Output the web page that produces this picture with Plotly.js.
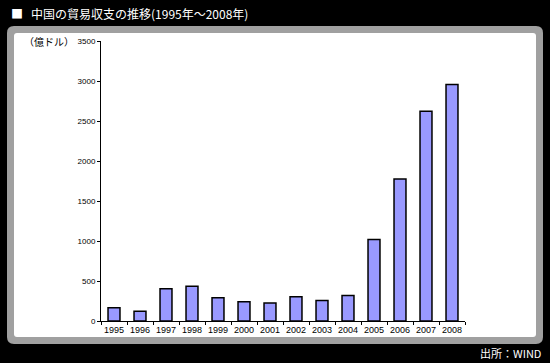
<!DOCTYPE html>
<html><head><meta charset="utf-8">
<script src="https://cdn.plot.ly/plotly-3.0.1.min.js"></script>
<style>html,body{margin:0;padding:0;background:#000;}#chart{width:550px;height:363px;}</style>
</head><body><div id="chart"></div>
<script>
const years = ['1995','1996','1997','1998','1999','2000','2001','2002','2003','2004','2005','2006','2007','2008'];
const balance = [167,122,404,435,292,241,225,304,255,320,1020,1775,2622,2955];
const yTicks = [0,500,1000,1500,2000,2500,3000,3500];
const markText = '■';
const titleText = '中国の貿易収支の推移(1995年～2008年)';
const unitText = '（億ドル）';
const sourceText = '出所：WIND';

// pixel -> paper helpers (plot area x:101..465, y:41..321)
const L=101,R=465,T=41,B=321;
const px=x=>(x-L)/(R-L), py=y=>(B-y)/(B-T);
function rr(x0,y0,x1,y1,r){
  const P=(x,y)=>px(x)+','+py(y);
  return 'M'+P(x0+r,y0)+' L'+P(x1-r,y0)+' Q'+P(x1,y0)+' '+P(x1,y0+r)+
    ' L'+P(x1,y1-r)+' Q'+P(x1,y1)+' '+P(x1-r,y1)+
    ' L'+P(x0+r,y1)+' Q'+P(x0,y1)+' '+P(x0,y1-r)+
    ' L'+P(x0,y0+r)+' Q'+P(x0,y0)+' '+P(x0+r,y0)+' Z';
}
const jp='"Noto Sans CJK JP", "Noto Sans", sans-serif';
const data=[{type:'bar',x:years,y:balance,marker:{color:'#9999ff',line:{color:'#000',width:1.5}},hoverinfo:'skip'}];
const layout={
  width:550,height:363,
  margin:{l:L,r:550-R,t:T,b:363-B,pad:0},
  paper_bgcolor:'#000',plot_bgcolor:'rgba(0,0,0,0)',
  showlegend:false,bargap:0.54,
  xaxis:{type:'category',showline:true,linecolor:'#000',linewidth:1,ticks:'outside',tickson:'boundaries',ticklen:3,tickcolor:'#000',tickangle:0,
    tickfont:{family:'Liberation Sans, Arial, sans-serif',size:9,color:'#000'},showgrid:false,zeroline:false,fixedrange:true},
  yaxis:{range:[0,3500],tickvals:yTicks,ticktext:yTicks.map(String),showline:true,linecolor:'#000',linewidth:1,ticks:'outside',ticklen:3,tickcolor:'#000',
    tickfont:{family:'Liberation Sans, Arial, sans-serif',size:8,color:'#000'},showgrid:false,zeroline:false,fixedrange:true},
  shapes:[
    {type:'path',xref:'paper',yref:'paper',layer:'below',path:rr(7,26,543,344,7),fillcolor:'#a0a0a0',line:{width:0}},
    {type:'path',xref:'paper',yref:'paper',layer:'below',path:rr(14,33,536,337,3),fillcolor:'#ffffff',line:{width:0}}
  ],
  annotations:[
    {text:markText,xref:'paper',yref:'paper',x:px(9),y:py(14),xanchor:'left',yanchor:'middle',showarrow:false,font:{family:jp,size:12,color:'#fff'}},
    {text:titleText,xref:'paper',yref:'paper',x:px(29),y:py(14),xanchor:'left',yanchor:'middle',showarrow:false,font:{family:jp,size:12,color:'#fff'}},
    {text:unitText,xref:'paper',yref:'paper',x:px(76),y:py(41),xanchor:'right',yanchor:'middle',showarrow:false,font:{family:jp,size:10,color:'#000'}},
    {text:sourceText,xref:'paper',yref:'paper',x:px(543),y:py(353),xanchor:'right',yanchor:'middle',showarrow:false,font:{family:jp,size:11,color:'#fff'}}
  ]
};
Plotly.newPlot('chart',data,layout,{staticPlot:true,displayModeBar:false});
</script></body></html>
